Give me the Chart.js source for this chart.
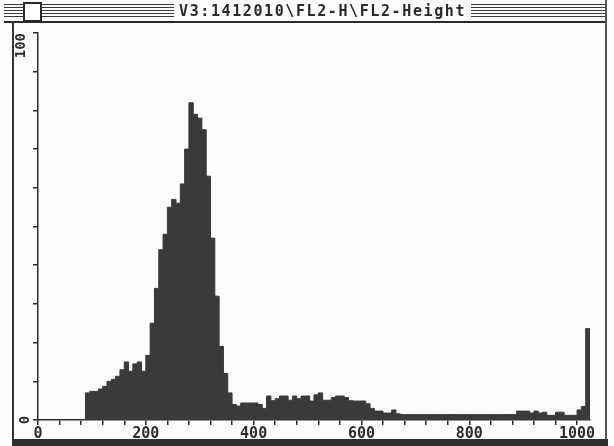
<!DOCTYPE html>
<html>
<head>
<meta charset="utf-8">
<script src="https://cdn.jsdelivr.net/npm/chart.js@4/dist/chart.umd.min.js"></script>
<style>
  html, body { margin: 0; padding: 0; background: #fff; }
  #wrap { position: relative; width: 614px; height: 446px; background: #fcfcfb; overflow: hidden; }
  #bar { position: absolute; left: 4px; top: 1px; width: 603px; height: 20px; border-bottom: 2px solid #2a2a2a; }
  #stripes { position: absolute; left: 0; right: 0; top: 3px; height: 15px;
    background: repeating-linear-gradient(to bottom, #3a3a3a 0 1px, #fcfcfb 1px 3px); }
  #box { position: absolute; left: 19px; top: 1px; width: 15px; height: 16px; background: #fff; border: 2px solid #2a2a2a; }
  #title { position: absolute; left: 170px; top: 1px; padding: 0 5px; background: #fcfcfb; color: #2a2a2a;
    font: bold 15px "DejaVu Sans Mono", monospace; letter-spacing: 1.6px; line-height: 18px; white-space: nowrap; }
  #frameL { position: absolute; left: 12px; top: 22px; width: 2px; height: 418px; background: #333; }
  #frameR { position: absolute; left: 605px; top: 0; width: 2px; height: 440px; background: #555; }
  #bottom { position: absolute; left: 12px; top: 439px; width: 596px; height: 7px; background: #2e2e2e; }
  #chartBox { position: absolute; left: 0; top: 0; width: 614px; height: 446px; }
</style>
</head>
<body>
<div id="wrap">
  <div id="chartBox"><canvas id="chart"></canvas></div>
  <div id="bar">
    <div id="stripes"></div>
    <div id="box"></div>
    <span id="title">V3:1412010\FL2-H\FL2-Height</span>
  </div>
  <div id="frameL"></div>
  <div id="frameR"></div>
  <div id="bottom"></div>
</div>
<script>
// FL2-Height histogram, 1024 channels in 8-channel bins
const BIN = 8;
const counts = [
  0, 0, 0, 0, 0, 0, 0, 0,
  0, 0, 0, 7, 7.4, 7.4, 8, 8.7,
  10, 10.5, 11.3, 13, 15, 12.6, 14.5, 15,
  12.6, 16.7, 25, 34, 44, 48, 55, 57,
  56, 61, 70, 82, 79, 78, 75, 63,
  47, 32, 19, 12, 7, 4, 3.6, 4.4,
  4.4, 4.4, 4.4, 4, 3, 6.2, 5, 5.5,
  6.2, 6.2, 5.1, 6.2, 5.5, 6.2, 6.2, 4.9,
  6.5, 7, 5.1, 5.1, 5.8, 6.2, 6.2, 5.8,
  5, 4.9, 4.9, 4.9, 4.2, 3, 2.3, 2.3,
  1.8, 1.8, 2.6, 1.6, 1.4, 1.4, 1.4, 1.4,
  1.4, 1.4, 1.4, 1.4, 1.4, 1.4, 1.4, 1.4,
  1.4, 1.4, 1.4, 1.4, 1.4, 1.4, 1.4, 1.4,
  1.4, 1.4, 1.4, 1.4, 1.4, 1.4, 1.4, 2.3,
  2.3, 2.3, 1.8, 2.3, 1.8, 2, 1.2, 1.2,
  2, 2, 1.2, 1.2, 1.2, 2.6, 3.5, 23.6
];
// small tick marks every 40 channels, labels every 200
const xTicks = [0, 40, 80, 120, 160, 200, 240, 280, 320, 360, 400, 440, 480,
  520, 560, 600, 640, 680, 720, 760, 800, 840, 880, 920, 960, 1000];
const xLabels = [0, 200, 400, 600, 800, 1000];
const yLabels = [0, 100];

const FONT = '"DejaVu Sans Mono", monospace';
const INK = '#2c2c2c';

const points = counts.map((v, i) => ({ x: i * BIN, y: v }));
points.push({ x: counts.length * BIN, y: counts[counts.length - 1] });

// y labels are rotated in the original, so draw them here
const yLabelPlugin = {
  id: 'yLabels',
  afterDraw(chart) {
    const ctx = chart.ctx;
    const y = chart.scales.y;
    ctx.save();
    ctx.fillStyle = INK;
    ctx.font = 'bold 14px ' + FONT;
    ctx.textBaseline = 'middle';
    yLabels.forEach((v) => {
      ctx.save();
      ctx.translate(v === 100 ? 21 : 25, y.getPixelForValue(v));
      ctx.rotate(-Math.PI / 2);
      ctx.textAlign = v === 100 ? 'right' : 'center';
      ctx.fillText(String(v), 0, 0);
      ctx.restore();
    });
    ctx.restore();
  }
};

new Chart(document.getElementById('chart'), {
  type: 'line',
  data: {
    datasets: [{
      data: points,
      stepped: 'before',
      fill: 'origin',
      backgroundColor: '#3b3939',
      borderColor: '#3b3939',
      borderWidth: 1,
      pointRadius: 0,
    }]
  },
  options: {
    responsive: true,
    maintainAspectRatio: false,
    animation: false,
    layout: { padding: { left: 33, top: 33, right: 24, bottom: 2 } },
    plugins: { legend: { display: false }, tooltip: { enabled: false }, title: { display: false } },
    scales: {
      x: {
        type: 'linear',
        min: 0,
        max: 1024,
        afterBuildTicks: (s) => { s.ticks = xTicks.map((v) => ({ value: v })); },
        ticks: {
          autoSkip: false,
          maxRotation: 0,
          padding: 2,
          color: INK,
          font: { family: FONT, size: 15, weight: 'bold', lineHeight: 1 },
          callback: (v) => (xLabels.includes(v) ? String(v) : ''),
        },
        grid: { drawOnChartArea: false, drawTicks: true, tickLength: 5, color: INK, lineWidth: 1.5 },
        border: { display: true, color: INK, width: 1.5 },
      },
      y: {
        min: 0,
        max: 100,
        ticks: { stepSize: 10, display: false },
        grid: { drawOnChartArea: false, drawTicks: true, tickLength: 5, color: INK, lineWidth: 1.5 },
        border: { display: true, color: INK, width: 1.5 },
      }
    }
  },
  plugins: [yLabelPlugin]
});
</script>
</body>
</html>
